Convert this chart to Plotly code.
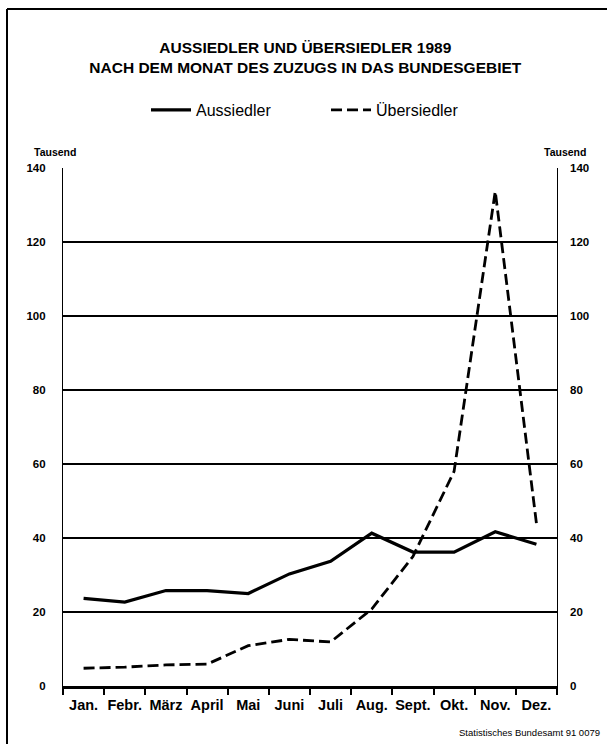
import plotly.graph_objects as go

months = ["Jan.", "Febr.", "März", "April", "Mai", "Juni", "Juli", "Aug.", "Sept.", "Okt.", "Nov.", "Dez."]
aussiedler = [23.7, 22.7, 25.8, 25.8, 25.0, 30.3, 33.7, 41.3, 36.2, 36.2, 41.7, 38.3]
uebersiedler = [4.8, 5.1, 5.7, 5.9, 10.9, 12.6, 11.9, 20.8, 35.0, 58.0, 133.7, 44.0]
ytick_vals = [0, 20, 40, 60, 80, 100, 120, 140]

W, H = 607, 744
L, R, T, B = 63, 50, 168, 58
PW, PH = W - L - R, H - T - B
FONT = "Liberation Sans, Arial, sans-serif"

def px(x):
    return (x - L) / PW

def py(y):
    return (H - B - y) / PH

fig = go.Figure()
fig.add_trace(go.Scatter(x=months, y=aussiedler, name="Aussiedler", mode="lines",
                         line=dict(color="black", width=3.2), yaxis="y"))
fig.add_trace(go.Scatter(x=months, y=uebersiedler, name="Übersiedler", mode="lines",
                         line=dict(color="black", width=2.8, dash="11px,5px"), yaxis="y2"))

fig.update_layout(
    width=W, height=H,
    margin=dict(l=L, r=R, t=T, b=B, autoexpand=False),
    paper_bgcolor="white", plot_bgcolor="white",
    font=dict(family=FONT, color="black"),
    title=dict(text="<b>AUSSIEDLER UND ÜBERSIEDLER 1989<br>NACH DEM MONAT DES ZUZUGS IN DAS BUNDESGEBIET</b>",
               x=0.503, xref="container", xanchor="center",
               y=1 - 53 / H, yref="container", yanchor="middle",
               font=dict(size=15.5, family=FONT, color="black")),
    showlegend=True,
    legend=dict(orientation="h", x=px(146), xanchor="left", y=py(110), yanchor="middle",
                font=dict(size=16, family=FONT), itemwidth=40,
                entrywidth=125, entrywidthmode="pixels", bgcolor="rgba(0,0,0,0)"),
    xaxis=dict(type="category", tickson="boundaries", ticks="outside", ticklen=6,
               tickwidth=1.5, tickcolor="black", showline=True, linecolor="black",
               linewidth=2.5, showgrid=False, tickangle=0, automargin=False,
               ticklabelstandoff=4,
               tickfont=dict(size=14.5, family=FONT, weight="bold"),
               range=[-0.5, 11.5], fixedrange=True),
    yaxis=dict(range=[0, 140], tickvals=ytick_vals, showgrid=True, gridcolor="black",
               gridwidth=1.5, zeroline=True, zerolinecolor="black", zerolinewidth=2.5,
               showline=True, linecolor="black", linewidth=1.2, mirror=True, ticks="",
               automargin=False, ticklabelstandoff=14,
               tickfont=dict(size=11.5, family=FONT, weight="bold")),
    yaxis2=dict(range=[0, 140], tickvals=ytick_vals, overlaying="y", side="right",
                matches="y", showgrid=False, zeroline=False, showline=False, ticks="",
                automargin=False, ticklabelstandoff=12,
                tickfont=dict(size=11.5, family=FONT, weight="bold")),
)

# Unit labels
fig.add_annotation(text="Tausend", x=px(32), y=py(152), xref="paper", yref="paper",
                   xanchor="left", yanchor="middle", showarrow=False,
                   font=dict(size=10.5, family=FONT, weight="bold"))
fig.add_annotation(text="Tausend", x=px(588), y=py(152), xref="paper", yref="paper",
                   xanchor="right", yanchor="middle", showarrow=False,
                   font=dict(size=10.5, family=FONT, weight="bold"))
# Source
fig.add_annotation(text="Statistisches Bundesamt 91 0079", x=px(602), y=py(732),
                   xref="paper", yref="paper", xanchor="right", yanchor="middle",
                   showarrow=False, font=dict(size=9.5, family=FONT))

# Outer frame (top and left edges)
fig.add_shape(type="line", xref="paper", yref="paper", x0=px(7), x1=px(607), y0=py(9), y1=py(9),
              line=dict(color="black", width=2))
fig.add_shape(type="line", xref="paper", yref="paper", x0=px(7), x1=px(7), y0=py(9), y1=py(744),
              line=dict(color="black", width=2))

fig.write_html("out.html", config={"displayModeBar": False},
               post_script="document.body.style.margin='0';document.body.style.overflow='hidden';")
